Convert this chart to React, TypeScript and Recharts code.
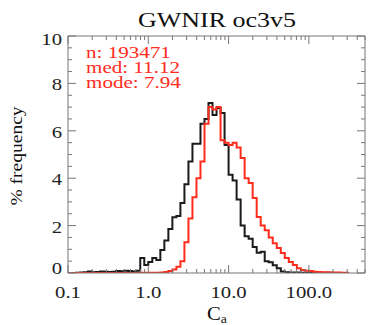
import type React from 'react';
import { LineChart, Line, XAxis, YAxis } from 'recharts';

// histogram bins: 0.05 decade wide, starting at 0.1
const BIN_EDGES = Array.from({ length: 71 }, (_, k) => 10 ** (-1 + 0.05 * k));

// % frequency per bin (black histogram)
const blackFreq = [
  0, 0, 0.01, 0.02, 0.03, 0.06, 0.03, 0.04, 0.06, 0.05,
  0.04, 0.05, 0.08, 0.07, 0.09, 0.08, 0.06, 0.1, 0.63, 0.34,
  0.46, 0.63, 0.55, 0.97, 1.37, 1.86, 2.35, 2.4, 2.95, 3.75,
  4.7, 5.45, 5.45, 6.3, 6.5, 7.17, 6.67, 6.96, 6.75, 5.4,
  4.15, 3.9, 3.1, 2.0, 1.55, 1.45, 1.1, 0.85, 0.9, 0.5,
  0.45, 0.33, 0.2, 0.06, 0.03, 0.02, 0.02, 0.02, 0.01, 0.01,
  0.01, 0.01, 0.01, 0.01, 0.01, 0.01, 0, 0, 0, 0,
];

// % frequency per bin (red histogram, GWNIR oc3v5)
const redFreq = [
  0, 0, 0, 0, 0, 0, 0, 0, 0, 0,
  0, 0, 0, 0, 0, 0, 0, 0, 0.01, 0.01,
  0.01, 0.01, 0.01, 0.02, 0.04, 0.08, 0.15, 0.26, 0.5, 1.3,
  2.3, 3.2, 4.0, 4.7, 6.3, 7.0, 6.9, 7.0, 5.6, 5.5,
  5.4, 5.5, 5.3, 4.85, 4.0, 3.8, 3.16, 2.36, 2.0, 1.8,
  1.5, 1.26, 1.05, 0.84, 0.63, 0.46, 0.34, 0.2, 0.13, 0.1,
  0.08, 0.05, 0.04, 0.03, 0.03, 0.02, 0.02, 0.02, 0.01, 0.01,
];

const xMajorTicks = [0.1, 1, 10, 100];
const xMinorTicks = [
  0.2, 0.3, 0.4, 0.5, 0.6, 0.7, 0.8, 0.9,
  2, 3, 4, 5, 6, 7, 8, 9,
  20, 30, 40, 50, 60, 70, 80, 90,
  200, 300, 400, 500,
];
const yMajorTicks = [0, 2, 4, 6, 8, 10];
const yMinorTicks = [0.5, 1, 1.5, 2.5, 3, 3.5, 4.5, 5, 5.5, 6.5, 7, 7.5, 8.5, 9, 9.5];

const statLines = ['n: 193471', 'med: 11.12', 'mode: 7.94'];

const histData = BIN_EDGES.map((x, k) => ({
  x,
  black: blackFreq[Math.min(k, blackFreq.length - 1)],
  red: redFreq[Math.min(k, redFreq.length - 1)],
}));

const FONT = '"Liberation Serif", "Times New Roman", serif';
const AXIS = '#777';
const RED = '#ff2b1c';
const MAJOR = 8;
const MINOR = 4;

// IDL-style inward ticks; side says which edge the axis sits on
const makeTick = (side: 'bottom' | 'top' | 'left' | 'right', majors: number[], label: boolean) =>
  (props: any) => {
    const { x, y, payload } = props;
    const v = Number(payload.value);
    const isMajor = majors.includes(v);
    const len = isMajor ? MAJOR : MINOR;
    let line;
    if (side === 'bottom') line = <line x1={x} x2={x} y1={y} y2={y - len} stroke={AXIS} />;
    else if (side === 'top') line = <line x1={x} x2={x} y1={y} y2={y + len} stroke={AXIS} />;
    else if (side === 'left') line = <line x1={x} x2={x + len} y1={y} y2={y} stroke={AXIS} />;
    else line = <line x1={x} x2={x - len} y1={y} y2={y} stroke={AXIS} />;
    let text = null;
    if (label && isMajor && side === 'bottom') {
      text = (
        <text
          transform={`translate(${x},${y + 25}) scale(1.22,1)`}
          textAnchor="middle"
          fontFamily={FONT}
          fontSize={17}
          fill="#222"
        >
          {v.toFixed(1)}
        </text>
      );
    }
    if (label && isMajor && side === 'left') {
      const dy = v === 0 ? 1 : v === 10 ? 9 : 7;
      text = (
        <text
          transform={`translate(${x - 6},${y + dy}) scale(1.22,1)`}
          textAnchor="end"
          fontFamily={FONT}
          fontSize={17}
          fill="#222"
        >
          {v}
        </text>
      );
    }
    return (
      <g>
        {line}
        {text}
      </g>
    );
  };

const BottomTick = makeTick('bottom', xMajorTicks, true);
const TopTick = makeTick('top', xMajorTicks, false);
const LeftTick = makeTick('left', yMajorTicks, true);
const RightTick = makeTick('right', yMajorTicks, false);

const logAxis = {
  type: 'number' as const,
  scale: 'log' as const,
  domain: [0.1, 500],
  allowDataOverflow: true,
  height: 1,
  interval: 0 as const,
  tickMargin: 0,
  tickSize: 0,
  tickLine: false,
  ticks: [...xMajorTicks, ...xMinorTicks],
  stroke: AXIS,
};

const linAxis = {
  type: 'number' as const,
  domain: [0, 10],
  allowDataOverflow: true,
  width: 1,
  interval: 0 as const,
  tickMargin: 0,
  tickSize: 0,
  tickLine: false,
  ticks: [...yMajorTicks, ...yMinorTicks],
  stroke: AXIS,
};

const App: React.FC = () => {
  return (
    <div style={{ position: 'absolute', left: 0, top: 0, width: 368, height: 325, background: '#fff' }}>
      <LineChart width={368} height={325} data={histData} margin={{ top: 35, right: 2, bottom: 51, left: 67 }}>
        <XAxis {...logAxis} xAxisId="b" dataKey="x" tick={<BottomTick />} />
        <XAxis {...logAxis} xAxisId="t" orientation="top" dataKey="x" tick={<TopTick />} />
        <YAxis {...linAxis} yAxisId="l" tick={<LeftTick />} />
        <YAxis {...linAxis} yAxisId="r" orientation="right" tick={<RightTick />} />
        <Line
          xAxisId="b"
          yAxisId="l"
          dataKey="black"
          type="stepAfter"
          stroke="#1a1a1a"
          strokeWidth={2}
          dot={false}
          isAnimationActive={false}
        />
        <Line
          xAxisId="b"
          yAxisId="l"
          dataKey="red"
          type="stepAfter"
          stroke={RED}
          strokeWidth={2}
          dot={false}
          isAnimationActive={false}
        />
      </LineChart>
      <svg
        width={368}
        height={325}
        style={{ position: 'absolute', left: 0, top: 0, pointerEvents: 'none' }}
      >
        <text transform="translate(217,27) scale(1.3,1)" textAnchor="middle" fontFamily={FONT} fontSize={20} fill="#111">
          GWNIR oc3v5
        </text>
        {statLines.map((s, i) => (
          <text
            key={s}
            transform={`translate(86,${58 + i * 15}) scale(1.24,1)`}
            fontFamily={FONT}
            fontSize={17}
            fill={RED}
          >
            {s}
          </text>
        ))}
        <text
          transform="translate(22,156) rotate(-90) scale(1.15,1)"
          textAnchor="middle"
          fontFamily={FONT}
          fontSize={17}
          fill="#111"
        >
          % frequency
        </text>
        <text transform="translate(217,320) scale(1.15,1)" textAnchor="middle" fontFamily={FONT} fontSize={18} fill="#111">
          C<tspan fontSize={12} dy={3}>a</tspan>
        </text>
      </svg>
    </div>
  );
};

export default App;
